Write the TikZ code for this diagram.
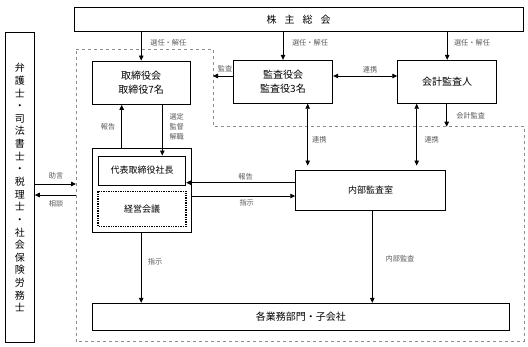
\documentclass[tikz,border=0pt]{standalone}
\usepackage{fontspec}
\setmainfont{Noto Sans CJK JP}
\usetikzlibrary{arrows.meta}
\begin{document}
\begin{tikzpicture}[x=1pt,y=-1pt,
  box/.style={draw,line width=0.9pt,rectangle,inner sep=0pt,align=center,font=\fontsize{10}{13.3}\selectfont},
  sbox/.style={box,font=\fontsize{9}{11}\selectfont},
  arr/.style={line width=0.8pt,-{Triangle[length=5pt,width=4.5pt]}},
  darr/.style={line width=0.8pt,{Triangle[length=5pt,width=4.5pt]}-{Triangle[length=5pt,width=4.5pt]}},
  lbl/.style={font=\fontsize{7.2}{10}\selectfont,text=black!65,inner sep=0pt,align=center}]
\useasboundingbox (0,0) rectangle (528,347);
% dashed region
\draw[black!45,dashed,line width=0.5pt] (76,49.3) -- (213,49.3) -- (213,126.7) -- (524,126.7) -- (524,341.7) -- (76,341.7) -- cycle;
\coordinate (kansaTip) at (213,76);
\coordinate (kaikeiTip) at (446.7,126.7);
\coordinate (jogenTip) at (76,184);
\coordinate (soudanStart) at (76,195);
\coordinate (r1) at (307.7,0);
\coordinate (r2) at (416.7,0);
\coordinate (c1) at (121.7,0);
\coordinate (c2) at (162.3,0);
\coordinate (c3) at (372.3,0);
\coordinate (h1) at (0,182.7);
\coordinate (h2) at (0,196);
\coordinate (h3) at (0,76);
% nodes
\node[box,minimum width=449pt,minimum height=24.4pt] (soukai) at (298.5,19.5) {株\hspace{8pt}主\hspace{8pt}総\hspace{8pt}会};
\node[box,minimum width=28.6pt,minimum height=310pt,font=\fontsize{10}{12.63}\selectfont] (bengo) at (20,187.7)
 {弁\\護\\士\\・\\司\\法\\書\\士\\・\\税\\理\\士\\・\\社\\会\\保\\険\\労\\務\\士};
\node[box,minimum width=97.7pt,minimum height=43.3pt] (torishimari) at (141.2,82.7) {取締役会\\取締役7名};
\node[box,minimum width=99.4pt,minimum height=43pt] (kansayaku) at (283,81.8) {監査役会\\監査役3名};
\node[box,minimum width=99pt,minimum height=43pt] (kaikei) at (447.2,81.8) {会計監査人};
\node[box,minimum width=98.7pt,minimum height=83.3pt] (group) at (141.6,190.6) {};
\node[sbox,minimum width=87.4pt,minimum height=29pt] (shachou) at (142,170.5) {代表取締役社長};
\node[sbox,draw=none,minimum width=87.4pt,minimum height=34.3pt] (keiei) at (142,208.9) {経営会議};
\draw[line width=1.4pt,densely dotted] (keiei.north west) rectangle (keiei.south east);
\node[sbox,minimum width=150pt,minimum height=40pt] (naibu) at (370.7,190) {内部監査室};
\node[box,minimum width=417pt,minimum height=27.4pt] (kakugyomu) at (300.8,317) {各業務部門・子会社};
% connectors
\draw[arr] (torishimari.north |- soukai.south) -- (torishimari.north);
\draw[arr] (kansayaku.north |- soukai.south) -- (kansayaku.north);
\draw[arr] (kaikei.north |- soukai.south) -- (kaikei.north);
\draw[arr] (kansayaku.west |- kansaTip) -- (kansaTip);
\draw[darr] (kansayaku.east |- h3) -- (kaikei.west |- h3);
\draw[arr] (kaikeiTip |- kaikei.south) -- (kaikeiTip);
\draw[darr,shorten >=4pt] (r1 |- kansayaku.south) -- (r1 |- naibu.north);
\draw[darr,shorten >=4pt] (r2 |- kaikei.south) -- (r2 |- naibu.north);
\draw[arr] (c1 |- group.north) -- (c1 |- torishimari.south);
\draw[arr] (c2 |- torishimari.south) -- (c2 |- shachou.north);
\draw[arr] (naibu.west |- h1) -- (shachou.east |- h1);
\draw[arr] (group.east |- h2) -- (naibu.west |- h2);
\draw[arr] (bengo.east |- jogenTip) -- (jogenTip);
\draw[arr] (soudanStart) -- (bengo.east |- soudanStart);
\draw[arr] (torishimari.north |- group.south) -- (torishimari.north |- kakugyomu.north);
\draw[arr] (c3 |- naibu.south) -- (c3 |- kakugyomu.north);
% labels
\node[lbl] (l1) at (168.3,42.7) {選任・解任};
\node[lbl] (l2) at (310,42.7) {選任・解任};
\node[lbl] (l3) at (472,42.7) {選任・解任};
\node[lbl] (l4) at (225,68.3) {監査};
\node[lbl] (l5) at (370,69.3) {連携};
\node[lbl] (l6) at (470.7,116) {会計監査};
\node[lbl] (l7) at (319.3,139.3) {連携};
\node[lbl] (l8) at (431.7,139.3) {連携};
\node[lbl] (l9) at (108,126.7) {報告};
\node[lbl] (l10) at (176.7,126.7) {選定\\監督\\解職};
\node[lbl] (l11) at (245.5,176.5) {報告};
\node[lbl] (l12) at (246.7,202.3) {指示};
\node[lbl] (l13) at (56,175.5) {助言};
\node[lbl] (l14) at (56,203.3) {相談};
\node[lbl] (l15) at (155,261.7) {指示};
\node[lbl] (l16) at (400,258.3) {内部監査};
\end{tikzpicture}
\end{document}
